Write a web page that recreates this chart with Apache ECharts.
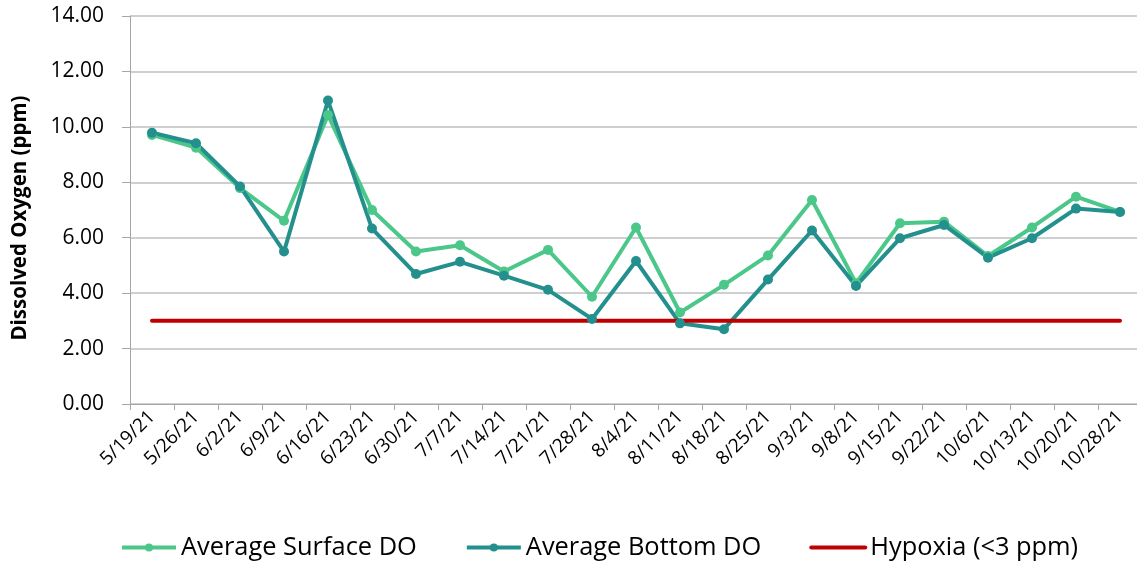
<!DOCTYPE html>
<html>
<head>
<meta charset="utf-8">
<script src="https://cdn.jsdelivr.net/npm/echarts@6/dist/echarts.min.js"></script>
<style>
  html, body { margin: 0; padding: 0; background: #fff; }
  #chart { width: 1137px; height: 566px; }
</style>
</head>
<body>
<div id="chart"></div>
<script>
const dates = ['5/19/21', '5/26/21', '6/2/21', '6/9/21', '6/16/21', '6/23/21', '6/30/21', '7/7/21',
  '7/14/21', '7/21/21', '7/28/21', '8/4/21', '8/11/21', '8/18/21', '8/25/21', '9/3/21', '9/8/21',
  '9/15/21', '9/22/21', '10/6/21', '10/13/21', '10/20/21', '10/28/21']
const surfaceDO = [9.71, 9.25, 7.79, 6.61, 10.43, 7.0, 5.5, 5.73, 4.78, 5.56, 3.87, 6.37, 3.3,
  4.3, 5.36, 7.36, 4.36, 6.52, 6.58, 5.34, 6.37, 7.48, 6.93]
const bottomDO = [9.79, 9.41, 7.85, 5.5, 10.95, 6.33, 4.69, 5.13, 4.63, 4.12, 3.07, 5.16, 2.91,
  2.7, 4.49, 6.26, 4.26, 5.98, 6.46, 5.28, 5.98, 7.05, 6.93]
const hypoxia = dates.map(() => 3)

const font = '"Open Sans", sans-serif'
const chart = echarts.init(document.getElementById('chart'))

chart.setOption({
  animation: false,
  backgroundColor: '#fff',
  textStyle: { fontFamily: font },
  grid: { left: 130, top: 16, width: 1012, height: 388, outerBoundsMode: 'none', containLabel: false },
  legend: {
    bottom: 1,
    left: 115,
    itemWidth: 54,
    itemHeight: 10,
    itemGap: 48,
    lineStyle: { width: 4 },
    textStyle: { fontSize: 25.4, color: '#000', fontFamily: font },
    data: [
      'Average Surface DO',
      'Average Bottom DO',
      { name: 'Hypoxia (<3 ppm)', itemStyle: { opacity: 0 } },
    ],
  },
  xAxis: {
    type: 'category',
    data: dates,
    boundaryGap: true,
    axisLine: { lineStyle: { color: '#a6a6a6', width: 1 } },
    axisTick: { show: true, length: 6, lineStyle: { color: '#a6a6a6' } },
    axisLabel: { rotate: 45, color: '#000', fontSize: 19, margin: 10, interval: 0 },
  },
  yAxis: {
    type: 'value',
    min: 0,
    max: 14,
    interval: 2,
    name: 'Dissolved Oxygen (ppm)',
    nameLocation: 'middle',
    nameGap: 99,
    nameTextStyle: { fontSize: 20.5, fontWeight: 'bold', color: '#000', padding: [0, 16, 0, 0] },
    axisLine: { show: true, lineStyle: { color: '#a6a6a6' } },
    axisTick: { show: true, length: 8, lineStyle: { color: '#a6a6a6' } },
    axisLabel: { color: '#000', fontSize: 21, margin: 26, formatter: (v) => v.toFixed(2) },
    splitLine: { lineStyle: { color: '#bfbfbf', width: 1.5 } },
  },
  series: [
    {
      name: 'Average Surface DO',
      type: 'line',
      data: surfaceDO,
      symbol: 'circle',
      symbolSize: 10,
      color: '#4cc78a',
      lineStyle: { width: 4, color: '#4cc78a' },
      itemStyle: { color: '#4cc78a' },
    },
    {
      name: 'Average Bottom DO',
      type: 'line',
      data: bottomDO,
      symbol: 'circle',
      symbolSize: 10,
      color: '#23908d',
      lineStyle: { width: 4, color: '#23908d' },
      itemStyle: { color: '#23908d' },
    },
    {
      name: 'Hypoxia (<3 ppm)',
      type: 'line',
      data: hypoxia,
      symbol: 'none',
      color: '#c00000',
      lineStyle: { width: 4, color: '#c00000', cap: 'round' },
    },
  ],
})
</script>
</body>
</html>
